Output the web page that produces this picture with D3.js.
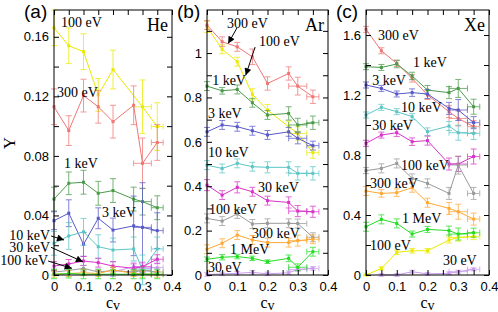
<!DOCTYPE html>
<html>
<head>
<meta charset="utf-8">
<script src="https://cdn.jsdelivr.net/npm/d3@7"></script>
<style>
body { margin: 0; background: #fff; }
</style>
</head>
<body>
<script>
// x positions (cv) shared by every series, and the horizontal error on each
var cvVals = [0, 0.05, 0.1, 0.15, 0.2, 0.27, 0.3, 0.35];
var cvErrs = [0, 0, 0, 0, 0, 0, 0.03, 0.02];

var energyLabels = ["30 eV", "100 eV", "300 eV", "1 keV", "3 keV", "10 keV", "30 keV", "100 keV", "300 keV", "1 MeV"];
var energyColors = ["#c99aee", "#eaea00", "#f07676", "#4a9a4a", "#5858c8", "#5cc6c6", "#d832c8", "#9a9a9a", "#ffa833", "#22dd22"];

// (a) He
var he30eV = [null, null, null, null, 0.002, 0.0056, 0.0045, 0.005];
var he30eVErr = [0, 0, 0, 0, 0.003, 0.003, 0.003, 0.003];
var he100eV = [0.166, 0.154, 0.150, 0.121, 0.138, null, 0.113, 0.0997];
var he100eVErr = [0.012, 0.012, 0.012, 0.011, 0.013, 0, 0.018, 0.016];
var he300eV = [0.113, 0.097, 0.1205, 0.113, 0.103, 0.114, 0.075, 0.089];
var he300eVErr = [0.012, 0.010, 0.011, 0.011, 0.011, 0.013, 0.017, 0.012];
var he1keV = [0.051, 0.0616, 0.0623, 0.0549, 0.0567, 0.051, 0.0493, 0.0452];
var he1keVErr = [0.008, 0.0076, 0.008, 0.008, 0.008, 0.008, 0.009, 0.008];
var he3keV = [0.0365, 0.0415, 0.0206, 0.0381, 0.0302, 0.033, 0.032, 0.0298];
var he3keVErr = [0.006, 0.009, 0.008, 0.007, 0.008, 0.02, 0.03, 0.012];
var he10keV = [0.0213, 0.0262, 0.029, 0.019, 0.0168, 0.0175, 0.0034, 0.0175];
var he10keVErr = [0.008, 0.009, 0.009, 0.008, 0.008, 0.008, 0.01, 0.008];
var he30keV = [0.006, 0.0074, 0.0094, 0.0083, 0.006, 0.0045, 0.0056, 0.0106];
var he30keVErr = [0.003, 0.003, 0.003, 0.003, 0.003, 0.003, 0.003, 0.003];
var he100keV = [0.002, 0.003, 0.0045, 0.002, 0.003, 0.002, 0.003, 0.002];
var he100keVErr = [0.002, 0.002, 0.002, 0.002, 0.002, 0.002, 0.002, 0.002];
var he300keV = [0.0005, 0.001, 0.0015, 0.001, 0.0034, 0.001, 0.0005, 0.0005];
var he300keVErr = [0.002, 0.002, 0.002, 0.002, 0.002, 0.002, 0.002, 0.002];
var he1MeV = [0.0005, 0.001, 0.0005, 0.0005, 0.0005, 0.0005, 0.0005, 0.0005];
var he1MeVErr = [0.003, 0.003, 0.003, 0.003, 0.003, 0.003, 0.003, 0.003];

// (b) Ar
var ar30eV = [0.002, 0.005, 0.0075, 0.012, 0.005, 0.01, 0.025, 0.03];
var ar30eVErr = [0.008, 0.008, 0.008, 0.008, 0.008, 0.008, 0.008, 0.008];
var ar100eV = [1.118, 1.017, 0.961, 0.814, 0.743, 0.668, 0.638, 0.551];
var ar100eVErr = [0.025, 0.02, 0.02, 0.025, 0.025, 0.025, 0.03, 0.025];
var ar300eV = [1.126, 1.051, 1.028, 0.983, 0.863, 0.908, 0.851, 0.803];
var ar300eVErr = [0.02, 0.022, 0.02, 0.035, 0.03, 0.03, 0.04, 0.03];
var ar1keV = [0.851, 0.830, 0.836, 0.776, 0.721, 0.728, 0.676, 0.686];
var ar1keVErr = [0.02, 0.015, 0.02, 0.02, 0.02, 0.03, 0.03, 0.03];
var ar3keV = [0.645, 0.676, 0.668, 0.650, 0.631, 0.645, 0.616, 0.583];
var ar3keVErr = [0.02, 0.02, 0.02, 0.02, 0.02, 0.02, 0.025, 0.02];
var ar10keV = [0.495, 0.480, 0.503, 0.488, 0.485, 0.485, 0.458, 0.458];
var ar10keVErr = [0.02, 0.02, 0.02, 0.02, 0.025, 0.025, 0.03, 0.03];
var ar30keV = [0.405, 0.360, 0.395, 0.375, 0.335, 0.327, 0.288, 0.285];
var ar30keVErr = [0.025, 0.02, 0.025, 0.02, 0.02, 0.025, 0.025, 0.025];
var ar100keV = [0.255, 0.243, 0.275, 0.230, 0.233, 0.233, 0.232, 0.170];
var ar100keVErr = [0.02, 0.02, 0.02, 0.02, 0.02, 0.02, 0.02, 0.02];
var ar300keV = [0.116, 0.143, 0.180, 0.158, 0.146, 0.146, 0.155, 0.161];
var ar300keVErr = [0.02, 0.02, 0.02, 0.02, 0.02, 0.02, 0.025, 0.02];
var ar1MeV = [0.071, 0.080, 0.083, 0.075, 0.060, 0.075, 0.035, 0.105];
var ar1MeVErr = [0.01, 0.012, 0.01, 0.01, 0.008, 0.015, 0.015, 0.02];

// (c) Xe
var xe30eV = [null, 0.0, 0.0, 0.022, 0.007, 0.011, 0.022, 0.038];
var xe30eVErr = [0, 0.008, 0.008, 0.01, 0.008, 0.01, 0.01, 0.01];
var xe100eV = [0.0, 0.044, 0.151, 0.162, 0.162, 0.233, 0.251, 0.256];
var xe100eVErr = [0.005, 0.01, 0.015, 0.015, 0.015, 0.02, 0.025, 0.02];
var xe300eV = [1.638, 1.495, 1.411, 1.311, 1.20, 1.089, 1.044, 0.989];
var xe300eVErr = [0.02, 0.02, 0.02, 0.025, 0.03, 0.04, 0.05, 0.04];
var xe1keV = [1.389, 1.384, 1.407, 1.327, 1.233, 1.216, 1.244, 1.122];
var xe1keVErr = [0.02, 0.02, 0.025, 0.025, 0.03, 0.04, 0.06, 0.05];
var xe3keV = [1.267, 1.244, 1.207, 1.216, 1.207, 1.111, 1.10, 1.016];
var xe3keVErr = [0.02, 0.02, 0.02, 0.025, 0.03, 0.04, 0.07, 0.04];
var xe10keV = [1.067, 1.118, 1.089, 1.056, 0.956, 0.993, 0.949, 0.944];
var xe10keVErr = [0.02, 0.02, 0.02, 0.02, 0.025, 0.03, 0.05, 0.04];
var xe30keV = [0.878, 0.933, 0.949, 0.889, 0.896, 0.74, 0.74, 0.79];
var xe30keVErr = [0.02, 0.02, 0.025, 0.025, 0.03, 0.04, 0.05, 0.05];
var xe100keV = [0.696, 0.711, 0.744, 0.644, 0.611, 0.544, 0.733, 0.544];
var xe100keVErr = [0.02, 0.03, 0.03, 0.03, 0.03, 0.04, 0.06, 0.04];
var xe300keV = [0.56, 0.544, 0.549, 0.582, 0.482, 0.444, 0.422, 0.373];
var xe300keVErr = [0.03, 0.025, 0.025, 0.03, 0.03, 0.04, 0.05, 0.04];
var xe1MeV = [0.322, 0.371, 0.344, 0.273, 0.304, 0.296, 0.273, 0.282];
var xe1MeVErr = [0.03, 0.03, 0.03, 0.02, 0.02, 0.03, 0.04, 0.03];

function makeSeries(vals, errs) {
  // order follows energyLabels
  return vals.map(function (v, i) {
    return { label: energyLabels[i], color: energyColors[i], y: v, err: errs[i] };
  });
}

var heSeries = makeSeries(
  [he30eV, he100eV, he300eV, he1keV, he3keV, he10keV, he30keV, he100keV, he300keV, he1MeV],
  [he30eVErr, he100eVErr, he300eVErr, he1keVErr, he3keVErr, he10keVErr, he30keVErr, he100keVErr, he300keVErr, he1MeVErr]);
var arSeries = makeSeries(
  [ar30eV, ar100eV, ar300eV, ar1keV, ar3keV, ar10keV, ar30keV, ar100keV, ar300keV, ar1MeV],
  [ar30eVErr, ar100eVErr, ar300eVErr, ar1keVErr, ar3keVErr, ar10keVErr, ar30keVErr, ar100keVErr, ar300keVErr, ar1MeVErr]);
var xeSeries = makeSeries(
  [xe30eV, xe100eV, xe300eV, xe1keV, xe3keV, xe10keV, xe30keV, xe100keV, xe300keV, xe1MeV],
  [xe30eVErr, xe100eVErr, xe300eVErr, xe1keVErr, xe3keVErr, xe10keVErr, xe30keVErr, xe100keVErr, xe300keVErr, xe1MeVErr]);

// inline labels, in data units [text, cv, Y, anchor]
var heNotes = [["100 eV", 0.024, 0.170, "start"], ["300 eV", 0.010, 0.123, "start"], ["1 keV", 0.034, 0.0753, "start"],
  ["3 keV", 0.163, 0.0424, "start"], ["10 keV", -0.013, 0.0268, "end"], ["30 keV", -0.013, 0.0190, "end"], ["100 keV", -0.020, 0.0101, "end"]];
var heArrows = [[-0.010, 0.0262, 0.034, 0.0235], [-0.010, 0.0186, 0.098, 0.0089], [-0.020, 0.0094, 0.060, 0.0045]];
var arNotes = [["300 eV", 0.066, 1.135, "start"], ["100 eV", 0.172, 1.055, "start"], ["1 keV", 0.017, 0.878, "start"],
  ["3 keV", 0.003, 0.730, "start"], ["10 keV", 0.003, 0.554, "start"], ["30 keV", 0.169, 0.396, "start"],
  ["100 keV", 0.007, 0.297, "start"], ["300 keV", 0.149, 0.189, "start"], ["1 MeV", 0.076, 0.117, "start"], ["30 eV", 0.003, 0.036, "start"]];
var arArrows = [[0.099, 1.113, 0.070, 1.043], [0.159, 1.027, 0.128, 0.900]];
var xeNotes = [["300 eV", 0.039, 1.60, "start"], ["1 keV", 0.153, 1.42, "start"], ["3 keV", 0.020, 1.30, "start"],
  ["10 keV", 0.114, 1.12, "start"], ["30 keV", 0.020, 1.00, "start"], ["100 keV", 0.114, 0.733, "start"],
  ["300 keV", 0.013, 0.613, "start"], ["1 MeV", 0.117, 0.38, "start"], ["100 eV", 0.013, 0.20, "start"], ["30 eV", 0.250, 0.10, "start"]];

var xTicks = [0, 0.05, 0.1, 0.15, 0.2, 0.25, 0.3, 0.35, 0.4];
var xTickLabels = [0, 0.1, 0.2, 0.3, 0.4];

var panels = [
  { tag: "(a)", gas: "He", left: 54, right: 172, yMax: 0.178, yStep: 0.02, yLabelStep: 0.04, series: heSeries, notes: heNotes, arrows: heArrows },
  { tag: "(b)", gas: "Ar", left: 207, right: 328, yMax: 1.194, yStep: 0.1, yLabelStep: 0.2, series: arSeries, notes: arNotes, arrows: arArrows },
  { tag: "(c)", gas: "Xe", left: 366, right: 489, yMax: 1.767, yStep: 0.2, yLabelStep: 0.4, series: xeSeries, notes: xeNotes, arrows: [] }
];

var plotTop = 10, plotBottom = 275;
var sansFont = "'Liberation Sans', Arial, sans-serif";
var serifFont = "'Liberation Serif', 'Times New Roman', serif";

var svg = d3.select("body").append("svg")
  .attr("width", 498)
  .attr("height", 312);

svg.append("defs").append("marker")
  .attr("id", "arrowhead")
  .attr("viewBox", "0 0 10 10")
  .attr("refX", 10).attr("refY", 5)
  .attr("markerWidth", 9).attr("markerHeight", 7)
  .attr("markerUnits", "userSpaceOnUse")
  .attr("orient", "auto")
  .append("path")
  .attr("d", "M0,0L10,5L0,10Z")
  .attr("fill", "#000");

var fmt = function (d) { return d3.format("~g")(+d.toFixed(3)); };

panels.forEach(function (p) {
  var x = d3.scaleLinear().domain([0, 0.4]).range([p.left, p.right]);
  var y = d3.scaleLinear().domain([0, p.yMax]).range([plotBottom, plotTop]);
  var g = svg.append("g");

  var yTicks = d3.range(0, p.yMax + 1e-9, p.yStep).map(function (v) { return +v.toFixed(3); });
  var isLabelled = function (v) { return Math.abs(v / p.yLabelStep - Math.round(v / p.yLabelStep)) < 1e-6; };

  // data
  p.series.forEach(function (s) {
    var pts = cvVals.map(function (c, i) {
      return { x: c, xe: cvErrs[i], y: s.y[i], e: s.err[i] };
    }).filter(function (d) { return d.y != null; });

    var sg = g.append("g")
      .attr("stroke", s.color)
      .attr("fill", "none")
      .attr("stroke-width", 1);

    sg.append("path")
      .datum(pts)
      .attr("d", d3.line()
        .x(function (d) { return x(d.x); })
        .y(function (d) { return y(d.y); }));

    var eb = sg.selectAll(".eb")
      .data(pts)
      .enter()
      .append("g")
      .attr("opacity", 0.75);

    eb.append("line")
      .attr("x1", function (d) { return x(d.x); })
      .attr("x2", function (d) { return x(d.x); })
      .attr("y1", function (d) { return y(d.y - d.e); })
      .attr("y2", function (d) { return y(d.y + d.e); });
    eb.append("line")
      .attr("x1", function (d) { return x(d.x) - 3; })
      .attr("x2", function (d) { return x(d.x) + 3; })
      .attr("y1", function (d) { return y(d.y - d.e); })
      .attr("y2", function (d) { return y(d.y - d.e); });
    eb.append("line")
      .attr("x1", function (d) { return x(d.x) - 3; })
      .attr("x2", function (d) { return x(d.x) + 3; })
      .attr("y1", function (d) { return y(d.y + d.e); })
      .attr("y2", function (d) { return y(d.y + d.e); });

    var hb = eb.filter(function (d) { return d.xe > 0; });
    hb.append("line")
      .attr("x1", function (d) { return x(d.x - d.xe); })
      .attr("x2", function (d) { return x(d.x + d.xe); })
      .attr("y1", function (d) { return y(d.y); })
      .attr("y2", function (d) { return y(d.y); });
    hb.append("line")
      .attr("x1", function (d) { return x(d.x - d.xe); })
      .attr("x2", function (d) { return x(d.x - d.xe); })
      .attr("y1", function (d) { return y(d.y) - 3; })
      .attr("y2", function (d) { return y(d.y) + 3; });
    hb.append("line")
      .attr("x1", function (d) { return x(d.x + d.xe); })
      .attr("x2", function (d) { return x(d.x + d.xe); })
      .attr("y1", function (d) { return y(d.y) - 3; })
      .attr("y2", function (d) { return y(d.y) + 3; });

    sg.selectAll(".pt")
      .data(pts)
      .enter()
      .append("rect")
      .attr("x", function (d) { return x(d.x) - 1.5; })
      .attr("y", function (d) { return y(d.y) - 1.5; })
      .attr("width", 3)
      .attr("height", 3)
      .attr("fill", s.color)
      .attr("stroke", "none");
  });

  // axes with inward ticks on all four sides
  var styleAxis = function (sel) {
    sel.select(".domain").remove();
    sel.selectAll("line").attr("stroke", "#000");
    sel.selectAll("text")
      .attr("font-family", sansFont)
      .attr("font-size", 13)
      .attr("fill", "#000");
  };

  g.append("g")
    .attr("transform", "translate(" + p.left + ",0)")
    .call(d3.axisLeft(y).tickValues(yTicks).tickSize(-5).tickPadding(5)
      .tickFormat(function (v) { return isLabelled(v) ? fmt(v) : ""; }))
    .call(styleAxis);
  g.append("g")
    .attr("transform", "translate(" + p.right + ",0)")
    .call(d3.axisRight(y).tickValues(yTicks).tickSize(-5).tickFormat(""))
    .call(styleAxis);
  g.append("g")
    .attr("transform", "translate(0," + plotBottom + ")")
    .call(d3.axisBottom(x).tickValues(xTicks).tickSize(-5).tickPadding(7)
      .tickFormat(function (v) { return xTickLabels.indexOf(+v.toFixed(2)) >= 0 ? fmt(v) : ""; }))
    .call(styleAxis);
  g.append("g")
    .attr("transform", "translate(0," + plotTop + ")")
    .call(d3.axisTop(x).tickValues(xTicks).tickSize(-5).tickFormat(""))
    .call(styleAxis);

  g.append("rect")
    .attr("x", p.left)
    .attr("y", plotTop)
    .attr("width", p.right - p.left)
    .attr("height", plotBottom - plotTop)
    .attr("fill", "none")
    .attr("stroke", "#000")
    .attr("stroke-width", 1);

  // inline labels
  g.selectAll(".note")
    .data(p.notes)
    .enter()
    .append("text")
    .attr("x", function (d) { return x(d[1]); })
    .attr("y", function (d) { return y(d[2]); })
    .attr("dy", "0.35em")
    .attr("text-anchor", function (d) { return d[3]; })
    .attr("font-family", serifFont)
    .attr("font-size", 14)
    .attr("fill", "#000")
    .text(function (d) { return d[0]; });

  g.selectAll(".arrow")
    .data(p.arrows)
    .enter()
    .append("line")
    .attr("x1", function (d) { return x(d[0]); })
    .attr("y1", function (d) { return y(d[1]); })
    .attr("x2", function (d) { return x(d[2]); })
    .attr("y2", function (d) { return y(d[3]); })
    .attr("stroke", "#000")
    .attr("stroke-width", 1)
    .attr("marker-end", "url(#arrowhead)");

  g.append("text")
    .attr("x", p.right - 4)
    .attr("y", plotTop + 21)
    .attr("text-anchor", "end")
    .attr("font-family", serifFont)
    .attr("font-size", 18)
    .text(p.gas);

  g.append("text")
    .attr("x", p.left - 30)
    .attr("y", plotTop + 8)
    .attr("font-family", sansFont)
    .attr("font-size", 19)
    .text(p.tag);

  var cvLabel = g.append("text")
    .attr("x", (p.left + p.right) / 2)
    .attr("y", 308)
    .attr("text-anchor", "middle")
    .attr("font-family", serifFont)
    .attr("font-size", 16);
  cvLabel.append("tspan").text("c");
  cvLabel.append("tspan").attr("dy", 2).attr("font-size", 14).text("v");
});

svg.append("text")
  .attr("transform", "translate(15,143) rotate(-90)")
  .attr("text-anchor", "middle")
  .attr("font-family", serifFont)
  .attr("font-size", 17)
  .text("Y");
</script>
</body>
</html>
